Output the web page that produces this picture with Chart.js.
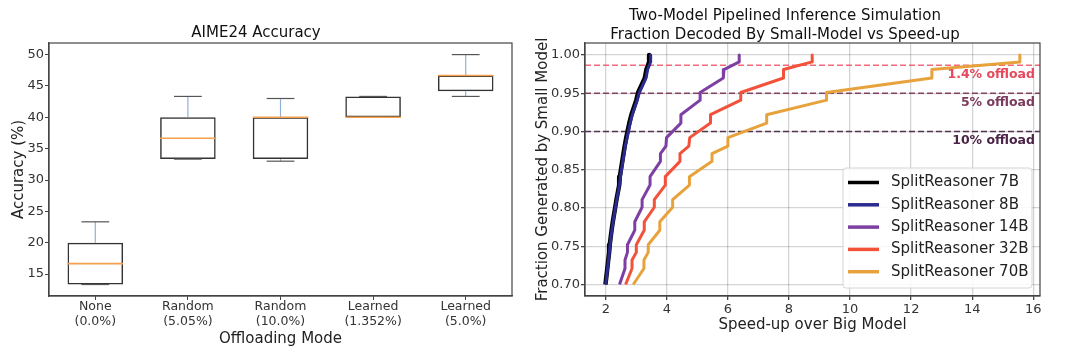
<!DOCTYPE html>
<html lang="en">
<head>
  <meta charset="UTF-8">
  <title>AIME24 Accuracy / Two-Model Pipelined Inference</title>
  <script src="https://cdn.jsdelivr.net/npm/chart.js"></script>
  <style>
    body { margin: 0; background: #fff; }
    #wrap { position: relative; width: 1080px; height: 353px; }
    #left { position: absolute; left: 0; top: 0; }
    #right { position: absolute; left: 530px; top: 0; }
  </style>
</head>
<body>
  <div id="wrap">
    <canvas id="left" width="530" height="353"></canvas>
    <canvas id="right" width="550" height="353"></canvas>
  </div>

  <script>
    // Left panel: AIME24 accuracy per offloading mode (box stats)
    const modes = [['None', '(0.0%)'], ['Random', '(5.05%)'], ['Random', '(10.0%)'], ['Learned', '(1.352%)'], ['Learned', '(5.0%)']];
    const whiskerLow = [13.33, 33.33, 33.0, 40.0, 43.33];
    const q1 = [13.33, 33.33, 33.33, 40.0, 44.17];
    const median = [16.67, 36.67, 40.0, 40.0, 46.67];
    const q3 = [20.0, 40.0, 40.0, 43.33, 46.67];
    const whiskerHigh = [23.33, 43.33, 43.0, 43.33, 50.0];

    // Right panel: fraction generated by the small model vs speed-up
    const fraction = [1.000, 0.991, 0.981, 0.970, 0.951, 0.941, 0.922, 0.911, 0.892, 0.881, 0.871, 0.861,
                      0.841, 0.830, 0.811, 0.801, 0.782, 0.771, 0.752, 0.742, 0.732, 0.721, 0.700];
    const speedup7B  = [3.42, 3.42, 3.33, 3.28, 3.06, 3.00, 2.84, 2.77, 2.67, 2.62, 2.58, 2.54, 2.46, 2.44, 2.35, 2.31, 2.23, 2.19, 2.13, 2.11, 2.08, 2.05, 1.99];
    const speedup8B  = [3.47, 3.47, 3.37, 3.32, 3.10, 3.03, 2.87, 2.80, 2.70, 2.64, 2.60, 2.56, 2.48, 2.45, 2.36, 2.32, 2.24, 2.20, 2.14, 2.12, 2.09, 2.06, 2.00];
    const speedup14B = [6.37, 6.37, 5.87, 5.85, 5.09, 5.09, 4.46, 4.46, 3.99, 3.97, 3.79, 3.79, 3.45, 3.45, 3.19, 3.19, 2.95, 2.95, 2.71, 2.71, 2.63, 2.63, 2.45];
    const speedup32B = [8.76, 8.76, 7.82, 7.82, 6.42, 6.42, 5.43, 5.43, 4.75, 4.72, 4.43, 4.43, 3.95, 3.95, 3.59, 3.59, 3.26, 3.26, 3.00, 3.00, 2.86, 2.86, 2.65];
    const speedup70B = [15.56, 15.56, 12.68, 12.68, 9.23, 9.23, 7.27, 7.27, 6.00, 6.00, 5.48, 5.48, 4.74, 4.74, 4.19, 4.19, 3.77, 3.77, 3.39, 3.39, 3.25, 3.25, 2.90];
    const modelNames = ['SplitReasoner 7B', 'SplitReasoner 8B', 'SplitReasoner 14B', 'SplitReasoner 32B', 'SplitReasoner 70B'];
    const offloadShare = [0.01352, 0.05, 0.10];
    const offloadLabels = ['1.4% offload', '5% offload', '10% offload'];

    const FONT = '"DejaVu Sans", sans-serif';
    const modelColors = ['#000000', '#2b2a8e', '#7d3fa3', '#f2523a', '#e8a23c'];
    const modelWidths = [4.5, 3, 3, 3, 3];
    const offloadLineColors = ['rgba(240,80,95,0.85)', 'rgba(120,50,85,0.9)', 'rgba(70,32,65,0.9)'];
    const offloadTextColors = ['#e8485c', '#7a3a5c', '#4b2447'];

    // draw the four spines like matplotlib
    const frame = {
      id: 'frame',
      afterDatasetsDraw(chart) {
        const { ctx, chartArea: a } = chart;
        ctx.save();
        ctx.strokeStyle = '#444';
        ctx.lineWidth = 1.2;
        ctx.strokeRect(a.left, a.top, a.right - a.left, a.bottom - a.top);
        ctx.restore();
      }
    };

    function seg(ctx, x1, y1, x2, y2) {
      ctx.beginPath();
      ctx.moveTo(x1, y1);
      ctx.lineTo(x2, y2);
      ctx.stroke();
    }

    // whiskers, caps and medians on top of the floating-bar boxes
    const boxParts = {
      id: 'boxParts',
      afterDatasetsDraw(chart) {
        const { ctx, scales: { x, y } } = chart;
        const half = (x.getPixelForValue(1) - x.getPixelForValue(0)) * 0.3;
        ctx.save();
        modes.forEach((m, i) => {
          const cx = x.getPixelForValue(i);
          ctx.lineWidth = 1.2;
          ctx.strokeStyle = '#8fb2d6';
          seg(ctx, cx, y.getPixelForValue(q3[i]), cx, y.getPixelForValue(whiskerHigh[i]));
          seg(ctx, cx, y.getPixelForValue(whiskerLow[i]), cx, y.getPixelForValue(q1[i]));
          ctx.strokeStyle = '#555';
          seg(ctx, cx - half / 2, y.getPixelForValue(whiskerHigh[i]), cx + half / 2, y.getPixelForValue(whiskerHigh[i]));
          seg(ctx, cx - half / 2, y.getPixelForValue(whiskerLow[i]), cx + half / 2, y.getPixelForValue(whiskerLow[i]));
          ctx.lineWidth = 1.6;
          ctx.strokeStyle = '#f5a04e';
          seg(ctx, cx - half, y.getPixelForValue(median[i]), cx + half, y.getPixelForValue(median[i]));
        });
        ctx.restore();
      }
    };

    new Chart(document.getElementById('left').getContext('2d'), {
      type: 'bar',
      data: {
        labels: modes,
        datasets: [{
          label: 'AIME24',
          data: q1.map((v, i) => [v, q3[i]]),
          backgroundColor: 'rgba(255,255,255,0)',
          borderColor: '#333',
          borderWidth: 1.5,
          borderSkipped: false,
          barPercentage: 0.6,
          categoryPercentage: 1.0
        }]
      },
      options: {
        responsive: false,
        animation: false,
        layout: { padding: { left: 0, right: 18, top: 0, bottom: 0 } },
        plugins: {
          legend: { display: false },
          tooltip: { enabled: false },
          title: {
            display: true,
            text: 'AIME24 Accuracy',
            color: '#111',
            font: { family: FONT, size: 15, weight: 'normal', lineHeight: 1.2 },
            padding: { top: 24, bottom: 1 }
          }
        },
        scales: {
          x: {
            afterFit(s) { s.height = 57; },
            grid: { drawOnChartArea: false, offset: false, tickLength: 4, tickColor: '#444' },
            border: { color: '#444', width: 1.2 },
            ticks: { color: '#333', padding: 0, font: { family: FONT, size: 12.5, lineHeight: 1.15 } },
            title: {
              display: true, text: 'Offloading Mode', color: '#222',
              font: { family: FONT, size: 15 }, padding: { top: 0, bottom: 5 }
            }
          },
          y: {
            min: 11.5,
            max: 51.85,
            afterFit(s) { s.width = 49; },
            grid: { drawOnChartArea: false, tickLength: 4, tickColor: '#444' },
            border: { color: '#444', width: 1.2 },
            ticks: { stepSize: 5, includeBounds: false, color: '#333', padding: 1, font: { family: FONT, size: 13 } },
            title: {
              display: true, text: 'Accuracy (%)', color: '#222',
              font: { family: FONT, size: 15 }, padding: { top: 10, bottom: 0 }
            }
          }
        }
      },
      plugins: [boxParts, frame]
    });

    // dashed offload reference lines and their labels
    const offloadLines = {
      id: 'offloadLines',
      beforeDatasetsDraw(chart) {
        const { ctx, chartArea: a, scales: { y } } = chart;
        ctx.save();
        ctx.lineWidth = 1.5;
        ctx.setLineDash([6, 3]);
        offloadShare.forEach((s, i) => {
          const py = y.getPixelForValue(1 - s);
          ctx.strokeStyle = offloadLineColors[i];
          seg(ctx, a.left, py, a.right, py);
        });
        ctx.restore();
      },
      afterDatasetsDraw(chart) {
        const { ctx, chartArea: a, scales: { y } } = chart;
        ctx.save();
        ctx.font = 'bold 12.5px ' + FONT;
        ctx.textAlign = 'right';
        ctx.textBaseline = 'middle';
        offloadShare.forEach((s, i) => {
          ctx.fillStyle = offloadTextColors[i];
          ctx.fillText(offloadLabels[i], a.right - 5, y.getPixelForValue(1 - s) + 9.5);
        });
        ctx.restore();
      }
    };

    // matplotlib-like legend in the lower right of the axes
    const legendBox = {
      id: 'legendBox',
      afterDraw(chart) {
        const { ctx, chartArea: a } = chart;
        const w = 189, h = 120, rowH = 22.3;
        const bx = a.right - 8 - w, by = a.bottom - 8 - h;
        ctx.save();
        ctx.fillStyle = 'rgba(255,255,255,0.85)';
        ctx.strokeStyle = '#d4d4d4';
        ctx.lineWidth = 1;
        ctx.beginPath();
        ctx.roundRect(bx, by, w, h, 3);
        ctx.fill();
        ctx.stroke();
        ctx.font = '15px ' + FONT;
        ctx.textBaseline = 'middle';
        chart.data.datasets.forEach((ds, i) => {
          const cy = by + 14.5 + i * rowH;
          ctx.strokeStyle = ds.borderColor;
          ctx.lineWidth = 3.5;
          seg(ctx, bx + 5, cy, bx + 36, cy);
          ctx.fillStyle = '#222';
          ctx.fillText(ds.label, bx + 48, cy);
        });
        ctx.restore();
      }
    };

    const speedups = [speedup7B, speedup8B, speedup14B, speedup32B, speedup70B];

    new Chart(document.getElementById('right').getContext('2d'), {
      type: 'line',
      data: {
        datasets: modelNames.map((name, k) => ({
          label: name,
          data: fraction.map((f, i) => ({ x: speedups[k][i], y: f })),
          borderColor: modelColors[k],
          backgroundColor: modelColors[k],
          borderWidth: modelWidths[k],
          borderJoinStyle: 'round',
          pointRadius: 0,
          tension: 0,
          fill: false,
          order: modelNames.length - k
        }))
      },
      options: {
        responsive: false,
        animation: false,
        layout: { padding: { left: 0, right: 40, top: 0, bottom: 0 } },
        plugins: {
          legend: { display: false },
          tooltip: { enabled: false },
          title: {
            display: true,
            text: ['Two-Model Pipelined Inference Simulation', 'Fraction Decoded By Small-Model vs Speed-up'],
            color: '#111',
            font: { family: FONT, size: 15, weight: 'normal', lineHeight: 1.3 },
            padding: { top: 6, bottom: -2 }
          }
        },
        scales: {
          x: {
            type: 'linear',
            min: 1.32,
            max: 16.22,
            afterFit(s) { s.height = 57; },
            grid: { color: 'rgba(0,0,0,0.17)', lineWidth: 1.3, tickLength: 4, tickColor: '#444' },
            border: { color: '#444', width: 1.2 },
            ticks: { stepSize: 2, includeBounds: false, color: '#333', padding: 2, font: { family: FONT, size: 13 } },
            title: {
              display: true, text: 'Speed-up over Big Model', color: '#222',
              font: { family: FONT, size: 15 }, padding: { top: 0, bottom: 19 }
            }
          },
          y: {
            min: 0.685,
            max: 1.0157,
            afterFit(s) { s.width = 55; },
            grid: { color: 'rgba(0,0,0,0.17)', lineWidth: 1.3, tickLength: 4, tickColor: '#444' },
            border: { color: '#444', width: 1.2 },
            ticks: {
              stepSize: 0.05, includeBounds: false, color: '#333', padding: 1,
              font: { family: FONT, size: 13 },
              callback: v => v.toFixed(2)
            },
            title: {
              display: true, text: 'Fraction Generated by Small Model', color: '#222',
              font: { family: FONT, size: 15 }, padding: { top: 4, bottom: 0 }
            }
          }
        }
      },
      plugins: [offloadLines, frame, legendBox]
    });
  </script>
</body>
</html>
